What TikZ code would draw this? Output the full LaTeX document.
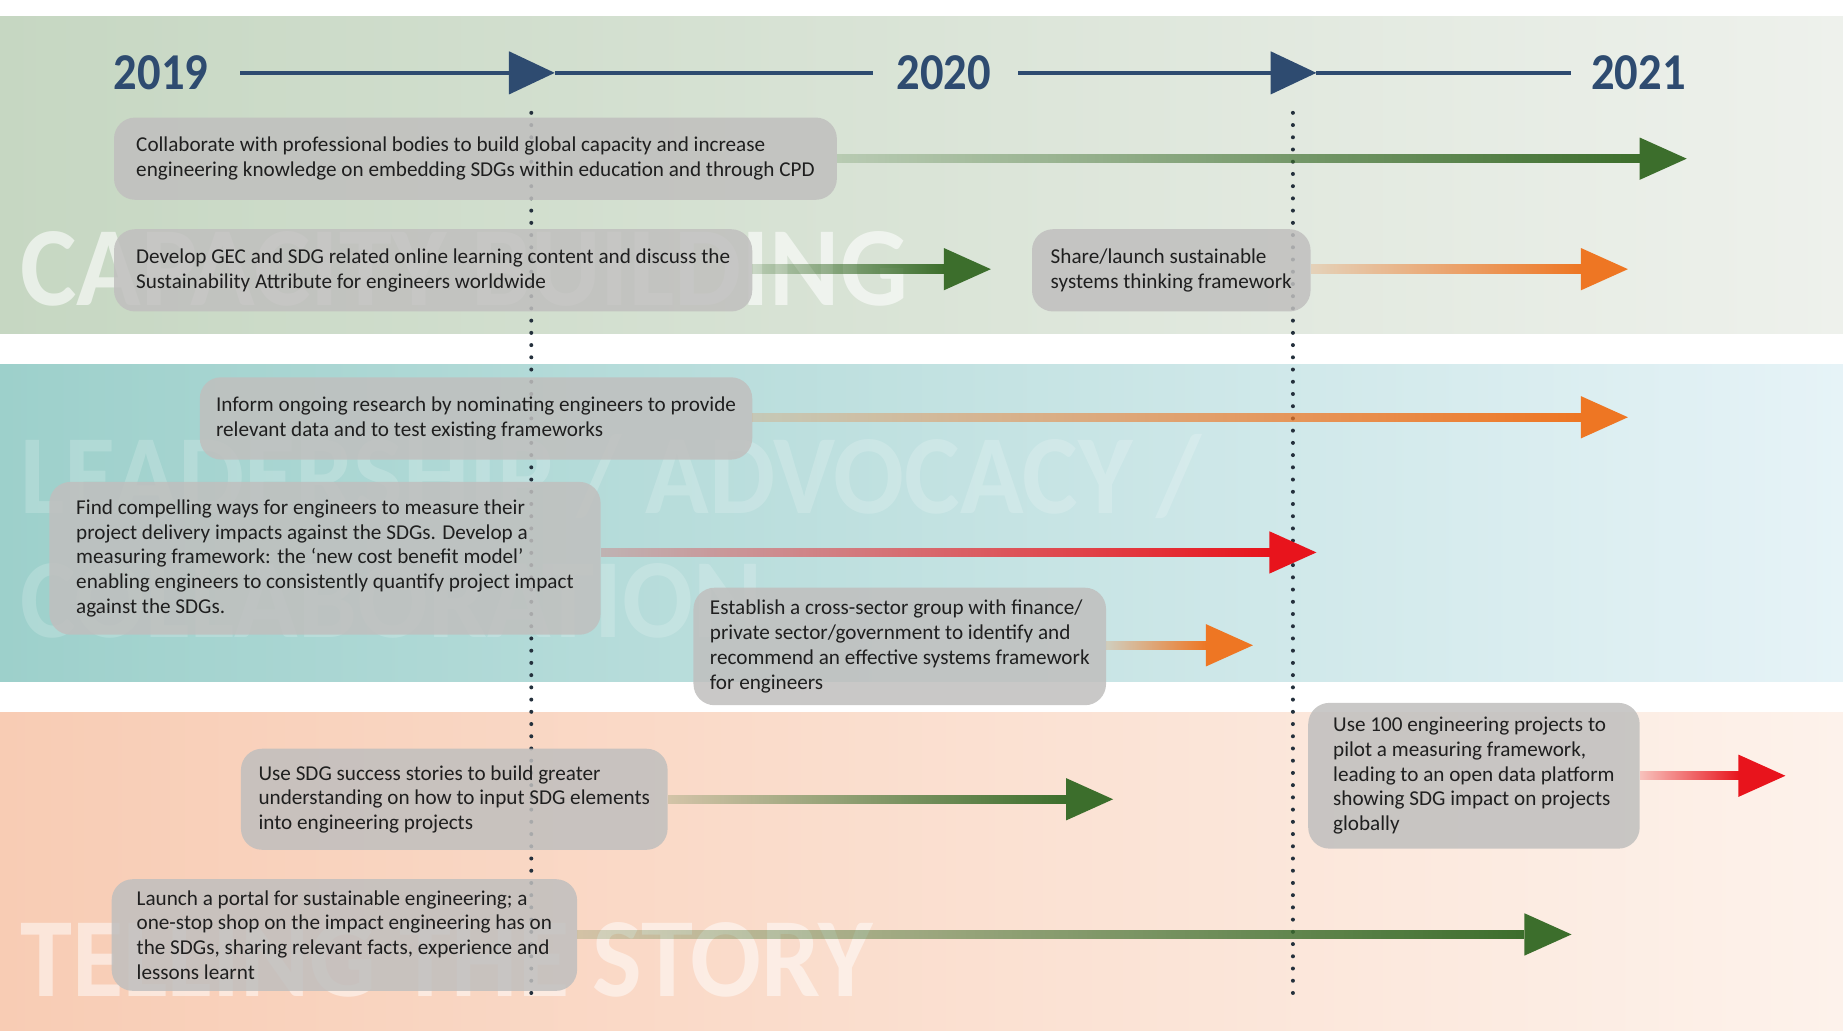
\documentclass[tikz,border=0pt]{standalone}
\usepackage{fontspec}
\setmainfont{Carlito}
\usepackage{tikz}
\usetikzlibrary{arrows.meta, calc, positioning, fadings}
\tikzset{>=latex}
\usepackage{xcolor}

\definecolor{navy}{HTML}{2E4B70}
\definecolor{leafgreen}{HTML}{3C6E2C}
\definecolor{sdgorange}{HTML}{EE7623}
\definecolor{sdgred}{HTML}{E8141C}
\definecolor{boxgrey}{HTML}{C0BFBE}
\definecolor{dotgrey}{HTML}{24303C}
\definecolor{capleft}{HTML}{C6D7C2}
\definecolor{capright}{HTML}{EEF1EC}
\definecolor{leadleft}{HTML}{9DD0CB}
\definecolor{leadright}{HTML}{E6F3F7}
\definecolor{storyleft}{HTML}{F8CCB4}
\definecolor{storyright}{HTML}{FDF2EB}

\tikzfading[name=fadein, left color=transparent!80, right color=transparent!0]

\begin{document}
\begin{tikzpicture}[x=1pt, y=-1pt,
        task/.style={rectangle, fill=boxgrey, fill opacity=0.85, text opacity=1, text=black!88, rounded corners=18pt, align=left, inner sep=0pt, font=\fontsize{18}{21}\selectfont},
        year/.style={text=navy, inner sep=3pt, font=\bfseries\fontsize{44}{44}\selectfont},
        yearline/.style={draw=navy, line width=3pt},
        milestone/.style={draw=dotgrey, line width=3.4pt, line cap=round, dash pattern=on 0pt off 10.4pt},
        watermark/.style={text=white, anchor=base west, inner sep=0pt, font=\bfseries\fontsize{96}{96}\selectfont}
    ]

    % Canvas and bands
    \useasboundingbox (0,0) rectangle (1568,877);
    \fill[white] (0,0) rectangle (1568,877);
    \shade[left color=capleft, right color=capright] (0,14) rectangle (1568,284);
    \shade[left color=leadleft, right color=leadright] (0,310) rectangle (1568,580);
    \shade[left color=storyleft, right color=storyright] (0,606) rectangle (1568,877);

    % Band titles
    \node[watermark, opacity=0.6] (wmcap) at (17,260) {\scalebox{0.945}[1]{CAPACITY BUILDING}};
    \node[watermark, opacity=0.18] (wmlead) at (17,437) {\scalebox{0.93}[1]{LEADERSHIP / ADVOCACY /}};
    \node[watermark, opacity=0.18] (wmcoll) at (17,542) {\scalebox{0.93}[1]{COLLABORATION}};
    \node[watermark, opacity=0.5] (wmstory) at (17,848) {\scalebox{0.93}[1]{TELLING THE STORY}};

    % Milestones
    \coordinate (d19top) at (452,96);
    \coordinate (d19bot) at (452,848);
    \coordinate (d20top) at (1100,96);
    \coordinate (d20bot) at (1100,845);
    \draw[milestone] (d19top) -- (d19bot);
    \draw[milestone] (d20top) -- (d20bot);

    % Timeline
    \node[year] (y19) at (137,62) {\scalebox{0.9}[1]{2019}};
    \node[year] (y20) at (803,62) {\scalebox{0.9}[1]{2020}};
    \node[year] (y21) at (1394,62) {\scalebox{0.9}[1]{2021}};
    \coordinate (m19) at (472,62);
    \coordinate (m20) at (1120,62);
    \draw[yearline, shorten <=24pt, -{Triangle[length=39pt, width=36pt]}] (y19) -- (m19);
    \draw[yearline, shorten >=17pt] (m19) -- (y20);
    \draw[yearline, shorten <=20pt, -{Triangle[length=39pt, width=36pt]}] (y20) -- (m20);
    \draw[yearline, shorten >=14pt] (m20) -- (y21);

    % Tasks
    \node[task, minimum width=615pt, minimum height=70pt] (b1) at (404.5,135) {Collaborate with professional bodies to build global capacity and increase\\engineering knowledge on embedding SDGs within education and through CPD};
    \node[task, minimum width=543pt, minimum height=70pt] (b2) at (368.5,230) {Develop GEC and SDG related online learning content and discuss the\\Sustainability Attribute for engineers worldwide};
    \node[task, minimum width=237pt, minimum height=70pt] (b3) at (996.5,230) {Share/launch sustainable\\systems thinking framework};
    \node[task, minimum width=470pt, minimum height=70pt] (b4) at (405,356) {Inform ongoing research by nominating engineers to provide\\relevant data and to test existing frameworks};
    \node[task, minimum width=469pt, minimum height=130pt] (b5) at (276.5,475) {Find compelling ways for engineers to measure their\\project delivery impacts against the SDGs. Develop a\\measuring framework: the ‘new cost benefit model’\\enabling engineers to consistently quantify project impact\\against the SDGs.};
    \node[task, minimum width=351pt, minimum height=100pt] (b6) at (765.5,550) {Establish a cross-sector group with finance/\\private sector/government to identify and\\recommend an effective systems framework\\for engineers};
    \node[task, minimum width=363pt, minimum height=86pt] (b7) at (386.5,680) {Use SDG success stories to build greater\\understanding on how to input SDG elements\\into engineering projects};
    \node[task, minimum width=396pt, minimum height=95pt] (b8) at (293,795.5) {Launch a portal for sustainable engineering; a\\one-stop shop on the impact engineering has on\\the SDGs, sharing relevant facts, experience and\\lessons learnt};
    \node[task, minimum width=282pt, minimum height=124pt] (b9) at (1254,660) {Use 100 engineering projects to\\pilot a measuring framework,\\leading to an open data platform\\showing SDG impact on projects\\globally};

    % Arrow ends
    \coordinate (t1) at (1435,135);
    \coordinate (t2) at (843,229);
    \coordinate (t3) at (1385,229);
    \coordinate (t4) at (1385,355);
    \coordinate (t5) at (1120,470);
    \coordinate (t6) at (1066,549);
    \coordinate (t7) at (947,680);
    \coordinate (t8) at (1337,795);
    \coordinate (t9) at (1519,660);

    % Arrows
    \foreach \task/\tip/\col in {b1/t1/leafgreen, b2/t2/leafgreen, b3/t3/sdgorange, b4/t4/sdgorange, b5/t5/sdgred, b6/t6/sdgorange, b7/t7/leafgreen, b8/t8/leafgreen, b9/t9/sdgred}{
        \fill[\col, path fading=fadein] ($(\task.east |- \tip)+(0,-4)$) rectangle ($(\tip)+(-39,4)$);
        \fill[\col] ($(\tip)+(-40,-18)$) -- (\tip) -- ($(\tip)+(-40,18)$) -- cycle;
    }

\end{tikzpicture}
\end{document}
